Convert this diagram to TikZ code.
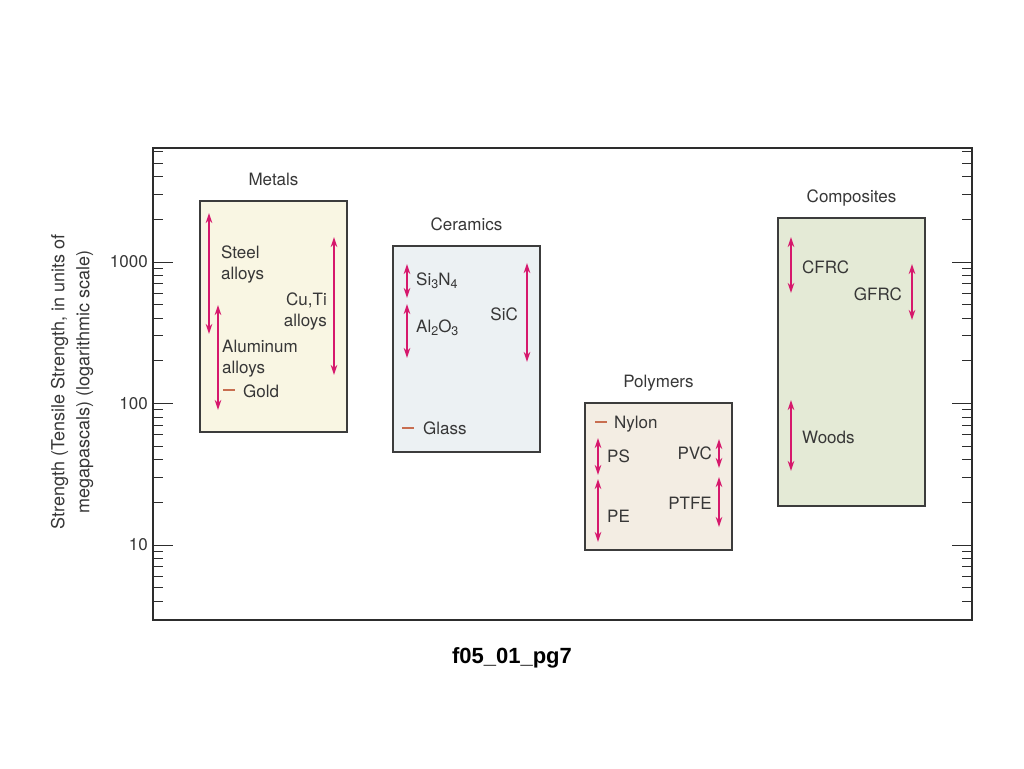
\documentclass[tikz,border=0pt]{standalone}
\usepackage{fontspec}
\setmainfont{TeX Gyre Heros}
\newfontfamily\capfont{Liberation Sans}
\usepackage{tikz}
\usetikzlibrary{arrows.meta,positioning}

\definecolor{ink}{RGB}{55,55,55}
\definecolor{framegray}{RGB}{45,45,45}
\definecolor{boxgray}{RGB}{60,60,60}
\definecolor{rangepink}{RGB}{214,24,108}
\definecolor{dashbrown}{RGB}{200,110,80}
\definecolor{metalfill}{RGB}{249,246,227}
\definecolor{ceramfill}{RGB}{236,241,243}
\definecolor{polyfill}{RGB}{243,237,227}
\definecolor{compfill}{RGB}{228,234,214}

\newcommand\lowidx[1]{\raisebox{-3.5pt}{\fontsize{12.5}{12.5}\selectfont #1}}

\tikzset{
    axisline/.style={draw=framegray, line width=1.6pt},
    groupbox/.style={draw=boxgray, line width=1.4pt, inner sep=0pt, outer sep=0pt},
    grouplabel/.style={font=\fontsize{17}{20}\selectfont, text=ink, text height=12pt, text depth=4pt},
    item/.style={font=\fontsize{17}{20.5}\selectfont, text=ink, inner sep=0pt},
    spanarrow/.style={draw=rangepink, line width=1.8pt, {Stealth[length=10pt,width=6.5pt]}-{Stealth[length=10pt,width=6.5pt]}},
    markdash/.style={draw=dashbrown, line width=1.6pt}
}

\begin{document}
\begin{tikzpicture}[x=1pt,y=-1pt]
    \useasboundingbox[fill=white] (0,0) rectangle (1024,768);

    % frame and log ticks
    \draw[axisline] (153,148) rectangle (972,620);
    \foreach \d in {0,...,3}{
        \foreach \m in {1,...,9}{
            \pgfmathsetmacro\ty{262+(3-\d-log10(\m))*141.5}
            \ifdim\ty pt>150pt \ifdim\ty pt<615pt
                \ifnum\m=1 \def\tl{20}\else\def\tl{10}\fi
                \draw[axisline, line width=1pt] (153,\ty) -- ++(\tl,0);
                \draw[axisline, line width=1pt] (972,\ty) -- ++(-\tl,0);
            \fi\fi
        }
    }
    \node[item, anchor=east] (l1000) at (148,262) {1000};
    \node[item, anchor=east] (l100) at (148,403.5) {100};
    \node[item, anchor=east] (l10) at (148,545) {10};
    \node[item, rotate=90, align=center, font=\fontsize{18}{25}\selectfont] (ylabel) at (72,382)
        {Strength (Tensile Strength, in units of\\megapascals) (logarithmic scale)};

    % groups
    \node[groupbox, fill=metalfill, minimum width=147pt, minimum height=231pt] (metals) at (273.5,316.5) {};
    \node[groupbox, fill=ceramfill, minimum width=147pt, minimum height=206pt] (ceramics) at (466.5,349) {};
    \node[groupbox, fill=polyfill, minimum width=147pt, minimum height=147pt] (polymers) at (658.5,476.5) {};
    \node[groupbox, fill=compfill, minimum width=147pt, minimum height=288pt] (composites) at (851.5,362) {};

    \node[grouplabel, above=8pt of metals] (metalsname) {Metals};
    \node[grouplabel, above=8pt of ceramics] (ceramicsname) {Ceramics};
    \node[grouplabel, above=8pt of polymers] (polymersname) {Polymers};
    \node[grouplabel, above=8pt of composites] (compositesname) {Composites};

    % metals
    \coordinate (steel-hi) at (209,213);
    \coordinate (steel-lo) at (209,334);
    \coordinate (alu-hi) at (218,305);
    \coordinate (alu-lo) at (218,410);
    \coordinate (cuti-hi) at (334,237);
    \coordinate (cuti-lo) at (334,375);
    \coordinate (gold-a) at (223,390);
    \coordinate (gold-b) at (235,390);
    \draw[spanarrow] (steel-hi) -- (steel-lo);
    \draw[spanarrow] (alu-hi) -- (alu-lo);
    \draw[spanarrow] (cuti-hi) -- (cuti-lo);
    \draw[markdash] (gold-a) -- (gold-b);
    \node[item, anchor=north west, align=left] (steel) at (221,246) {Steel\\alloys};
    \node[item, anchor=north west, align=left] (alu) at (222,340) {Aluminum\\alloys};
    \node[item, anchor=north east, align=right] (cuti) at (327,293) {Cu,Ti\\alloys};
    \node[item, anchor=base west] (gold) at (243,397) {Gold};

    % ceramics
    \coordinate (sin-hi) at (407,264);
    \coordinate (sin-lo) at (407,298);
    \coordinate (alo-hi) at (407,304);
    \coordinate (alo-lo) at (407,358);
    \coordinate (sic-hi) at (527,263);
    \coordinate (sic-lo) at (527,362);
    \coordinate (glass-a) at (402,428);
    \coordinate (glass-b) at (414,428);
    \draw[spanarrow] (sin-hi) -- (sin-lo);
    \draw[spanarrow] (alo-hi) -- (alo-lo);
    \draw[spanarrow] (sic-hi) -- (sic-lo);
    \draw[markdash] (glass-a) -- (glass-b);
    \node[item, anchor=base west] (sin) at (416,285) {Si\lowidx{3}N\lowidx{4}};
    \node[item, anchor=base west] (alo) at (416,332) {Al\lowidx{2}O\lowidx{3}};
    \node[item, anchor=base east] (sic) at (518,320) {SiC};
    \node[item, anchor=base west] (glass) at (423,434) {Glass};

    % polymers
    \coordinate (ps-hi) at (598,438);
    \coordinate (ps-lo) at (598,475);
    \coordinate (pe-hi) at (598,479);
    \coordinate (pe-lo) at (598,542);
    \coordinate (pvc-hi) at (719,439);
    \coordinate (pvc-lo) at (719,468);
    \coordinate (ptfe-hi) at (719,477);
    \coordinate (ptfe-lo) at (719,527);
    \coordinate (nylon-a) at (595,422);
    \coordinate (nylon-b) at (607,422);
    \draw[spanarrow] (ps-hi) -- (ps-lo);
    \draw[spanarrow] (pe-hi) -- (pe-lo);
    \draw[spanarrow] (pvc-hi) -- (pvc-lo);
    \draw[spanarrow] (ptfe-hi) -- (ptfe-lo);
    \draw[markdash] (nylon-a) -- (nylon-b);
    \node[item, anchor=base west] (nylon) at (614,428) {Nylon};
    \node[item, anchor=base west] (ps) at (607,462) {PS};
    \node[item, anchor=base west] (pe) at (607,522) {PE};
    \node[item, anchor=base east] (pvc) at (712,459) {PVC};
    \node[item, anchor=base east] (ptfe) at (712,509) {PTFE};

    % composites
    \coordinate (cfrc-hi) at (791,237);
    \coordinate (cfrc-lo) at (791,293);
    \coordinate (gfrc-hi) at (912,264);
    \coordinate (gfrc-lo) at (912,320);
    \coordinate (woods-hi) at (791,400);
    \coordinate (woods-lo) at (791,471);
    \draw[spanarrow] (cfrc-hi) -- (cfrc-lo);
    \draw[spanarrow] (gfrc-hi) -- (gfrc-lo);
    \draw[spanarrow] (woods-hi) -- (woods-lo);
    \node[item, anchor=base west] (cfrc) at (802,273) {CFRC};
    \node[item, anchor=base east] (gfrc) at (902,300) {GFRC};
    \node[item, anchor=base west] (woods) at (802,443) {Woods};

    \node[anchor=base, inner sep=0pt, font=\capfont\bfseries\fontsize{22}{26}\selectfont] (caption) at (512,663) {f05\_01\_pg7};
\end{tikzpicture}
\end{document}
